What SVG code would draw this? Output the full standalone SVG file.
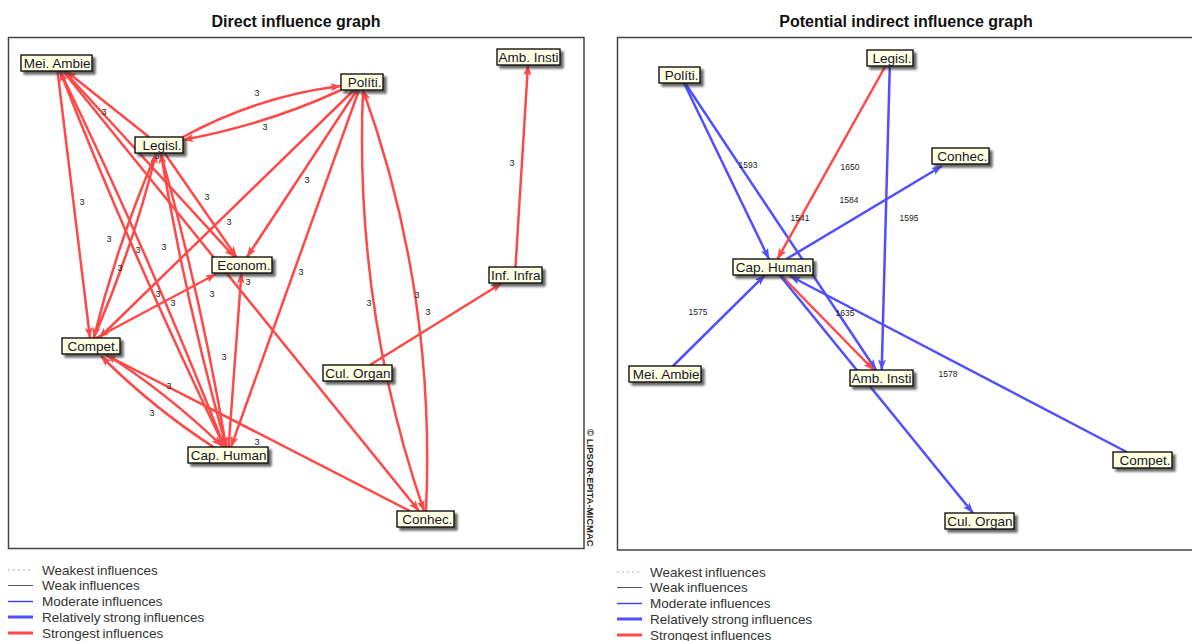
<svg xmlns="http://www.w3.org/2000/svg" width="1192" height="641" viewBox="0 0 1192 641">
<style>
.title{font-family:"Liberation Sans",Arial,sans-serif;font-size:16px;font-weight:bold;fill:#111;text-anchor:middle}
.frame{fill:none;stroke:#444;stroke-width:1.5}
.box{fill:#FFFFE1;stroke:#000;stroke-width:1.3;filter:url(#sh)}
.nt{font-family:"Liberation Sans",Arial,sans-serif;font-size:13.5px;fill:#151530;text-anchor:end}
.er{fill:none;stroke:#ff4848;stroke-width:2.5;marker-end:url(#ar)}
.eb{fill:none;stroke:#4f4fff;stroke-width:2.5;marker-end:url(#ab)}
.lb{font-family:"Liberation Sans",Arial,sans-serif;font-size:9px;fill:#222;text-anchor:middle}
.lr{font-family:"Liberation Sans",Arial,sans-serif;font-size:8.5px;fill:#222;text-anchor:middle}
.lg{font-family:"Liberation Sans",Arial,sans-serif;font-size:13.5px;fill:#333;word-spacing:-1px}
.cp{font-family:"Liberation Sans",Arial,sans-serif;font-size:9.5px;font-weight:bold;fill:#222}
.l-wst{stroke:#aaa;stroke-width:1;stroke-dasharray:2,3}
.l-wk{stroke:#555;stroke-width:1}
.l-mod{stroke:#3c3cff;stroke-width:1.4}
.l-rs{stroke:#4f4fff;stroke-width:3}
.l-st{stroke:#ff4848;stroke-width:3}
</style>
<defs>
<filter id="sh" x="-20%" y="-40%" width="140%" height="190%">
<feDropShadow dx="3" dy="3" stdDeviation="1.2" flood-color="#333" flood-opacity="0.75"/>
</filter>
<marker id="ar" viewBox="0 0 11 8" refX="10.5" refY="4" markerWidth="11" markerHeight="8" markerUnits="userSpaceOnUse" orient="auto">
<path d="M0,0 L11,4 L0,8 L2.5,4 z" fill="#ff4848"/>
</marker>
<marker id="ab" viewBox="0 0 11 8" refX="10.5" refY="4" markerWidth="11" markerHeight="8" markerUnits="userSpaceOnUse" orient="auto">
<path d="M0,0 L11,4 L0,8 L2.5,4 z" fill="#4f4fff"/>
</marker>
</defs>
<rect width="1192" height="641" fill="#fff"/>

<text class="title" x="296" y="27">Direct influence graph</text>
<text class="title" x="906" y="27">Potential indirect influence graph</text>
<rect class="frame" x="8.5" y="37.5" width="575.5" height="511"/>
<rect class="frame" x="617.5" y="37.5" width="600" height="512.5"/>
<text class="cp" transform="translate(587,429) rotate(90)">© LIPSOR-EPITA-MICMAC</text>

<g id="connectors-direct">
<path class="er" d="M183,137 Q258,96 341,86"/>
<path class="er" d="M341,90 Q268,124 183,140"/>
<path class="er" d="M149,137 L66,71"/>
<path class="er" d="M515.5,267 L528,65"/>
<path class="er" d="M370,365 L502,283"/>
<path class="er" d="M363,90 Q354,307 424,511"/>
<path class="er" d="M426,511 Q436,292 363,90"/>
<path class="er" d="M104,353 Q166,392 222,446"/>
<path class="er" d="M215,448 Q153,408 101,356"/>
<path class="er" d="M410,511 L106,355"/>
<path class="er" d="M63,71 L419,511"/>
<path class="er" d="M164.5,153 L236.5,257"/>
<path class="er" d="M64,71 L234.5,257"/>
<path class="er" d="M354,90 L99,338"/>
<path class="er" d="M357,90 L247,257"/>
<path class="er" d="M359,90 L231,447"/>
<path class="er" d="M57.5,71 L90,338"/>
<path class="er" d="M60,71 Q149.6,255.8 224.5,447"/>
<path class="er" d="M224.5,447 Q134.9,262.2 60,71"/>
<path class="er" d="M156.3,153 Q117.4,242.9 93.7,338"/>
<path class="er" d="M93.7,338 Q132.6,248.1 156.3,153"/>
<path class="er" d="M160.8,153 Q201.3,298.3 226.2,447"/>
<path class="er" d="M226.2,447 Q185.7,301.7 160.8,153"/>
<path class="er" d="M96,338 L216,274"/>
<path class="er" d="M228.6,447 L241.4,273"/>
</g>

<g id="labels-direct">
<text class="lb" x="257" y="96">3</text>
<text class="lb" x="265" y="130">3</text>
<text class="lb" x="104" y="115">3</text>
<text class="lb" x="512" y="166">3</text>
<text class="lb" x="207" y="200">3</text>
<text class="lb" x="229" y="225">3</text>
<text class="lb" x="82" y="205">3</text>
<text class="lb" x="307" y="183">3</text>
<text class="lb" x="109" y="242">3</text>
<text class="lb" x="138" y="253">3</text>
<text class="lb" x="164" y="250">3</text>
<text class="lb" x="120" y="271">3</text>
<text class="lb" x="158" y="297">3</text>
<text class="lb" x="173" y="306">3</text>
<text class="lb" x="212" y="297">3</text>
<text class="lb" x="248" y="285">3</text>
<text class="lb" x="301" y="275">3</text>
<text class="lb" x="224" y="360">3</text>
<text class="lb" x="369" y="306">3</text>
<text class="lb" x="417" y="298">3</text>
<text class="lb" x="428" y="315">3</text>
<text class="lb" x="169" y="389">3</text>
<text class="lb" x="152" y="416">3</text>
<text class="lb" x="257" y="445">3</text>
<text class="lb" x="157" y="159">3</text>
</g>

<g id="d-mei-ambie"><rect class="box" x="21" y="55" width="71" height="16"/><text class="nt" x="90.5" y="67.5">Mei. Ambie</text></g>
<g id="d-legisl"><rect class="box" x="135" y="137" width="48" height="16"/><text class="nt" x="181.5" y="149.5">Legisl.</text></g>
<g id="d-econom"><rect class="box" x="212" y="257" width="60" height="16"/><text class="nt" x="270.5" y="269.5">Econom.</text></g>
<g id="d-politi"><rect class="box" x="341" y="74" width="42" height="16"/><text class="nt" x="381.5" y="86.5">Políti.</text></g>
<g id="d-amb-insti"><rect class="box" x="497" y="49" width="63" height="16"/><text class="nt" x="558.5" y="61.5">Amb. Insti</text></g>
<g id="d-inf-infra"><rect class="box" x="489" y="267" width="53" height="16"/><text class="nt" x="540.5" y="279.5">Inf. Infra</text></g>
<g id="d-compet"><rect class="box" x="62" y="338" width="58" height="16"/><text class="nt" x="118.5" y="350.5">Compet.</text></g>
<g id="d-cap-human"><rect class="box" x="188" y="447" width="80" height="16"/><text class="nt" x="266.5" y="459.5">Cap. Human</text></g>
<g id="d-cul-organ"><rect class="box" x="323" y="365" width="69" height="16"/><text class="nt" x="390.5" y="377.5">Cul. Organ</text></g>
<g id="d-conhec"><rect class="box" x="397" y="511" width="57" height="16"/><text class="nt" x="452.5" y="523.5">Conhec.</text></g>

<g id="connectors-indirect">
<path class="eb" d="M684,83 L769,259"/>
<path class="eb" d="M685,83 L876,370"/>
<path class="er" d="M885.5,66 L777.5,259"/>
<path class="eb" d="M889.8,66 L881.7,370"/>
<path class="eb" d="M786.5,259 L942,166"/>
<path class="eb" d="M673,366 L765,275"/>
<path class="eb" d="M1126.7,452 L790,276"/>
<path class="er" d="M780.8,275 L873.7,370"/>
<path class="eb" d="M779.5,275 L973,513"/>
</g>

<g id="labels-indirect">
<text class="lr" x="748" y="168">1593</text>
<text class="lr" x="850" y="170">1650</text>
<text class="lr" x="849" y="203">1584</text>
<text class="lr" x="800" y="221">1541</text>
<text class="lr" x="909" y="221">1595</text>
<text class="lr" x="698" y="315">1575</text>
<text class="lr" x="845" y="316">1635</text>
<text class="lr" x="948" y="377">1578</text>
</g>

<g id="i-politi"><rect class="box" x="659" y="67" width="41" height="16"/><text class="nt" x="698.5" y="79.5">Políti.</text></g>
<g id="i-legisl"><rect class="box" x="867" y="50" width="46" height="16"/><text class="nt" x="911.5" y="62.5">Legisl.</text></g>
<g id="i-conhec"><rect class="box" x="932" y="148" width="57" height="16"/><text class="nt" x="987.5" y="160.5">Conhec.</text></g>
<g id="i-cap-human"><rect class="box" x="733" y="259" width="80" height="16"/><text class="nt" x="811.5" y="271.5">Cap. Human</text></g>
<g id="i-mei-ambie"><rect class="box" x="629" y="366" width="72" height="16"/><text class="nt" x="699.5" y="378.5">Mei. Ambie</text></g>
<g id="i-amb-insti"><rect class="box" x="850" y="370" width="63" height="16"/><text class="nt" x="911.5" y="382.5">Amb. Insti</text></g>
<g id="i-compet"><rect class="box" x="1113" y="452" width="59" height="16"/><text class="nt" x="1170.5" y="464.5">Compet.</text></g>
<g id="i-cul-organ"><rect class="box" x="945" y="513" width="69" height="16"/><text class="nt" x="1012.5" y="525.5">Cul. Organ</text></g>

<g id="legend-direct">
<line class="l-wst" x1="8" y1="570" x2="33" y2="570"/>
<text class="lg" x="42" y="574.5">Weakest influences</text>
<line class="l-wk" x1="8" y1="585.5" x2="33" y2="585.5"/>
<text class="lg" x="42" y="590">Weak influences</text>
<line class="l-mod" x1="8" y1="601.5" x2="33" y2="601.5"/>
<text class="lg" x="42" y="606">Moderate influences</text>
<line class="l-rs" x1="8" y1="617" x2="33" y2="617"/>
<text class="lg" x="42" y="622">Relatively strong influences</text>
<line class="l-st" x1="8" y1="633" x2="33" y2="633"/>
<text class="lg" x="42" y="638">Strongest influences</text>
</g>

<g id="legend-indirect">
<line class="l-wst" x1="617" y1="572" x2="642" y2="572"/>
<text class="lg" x="650" y="576.5">Weakest influences</text>
<line class="l-wk" x1="617" y1="587.5" x2="642" y2="587.5"/>
<text class="lg" x="650" y="592">Weak influences</text>
<line class="l-mod" x1="617" y1="603.5" x2="642" y2="603.5"/>
<text class="lg" x="650" y="608">Moderate influences</text>
<line class="l-rs" x1="617" y1="619" x2="642" y2="619"/>
<text class="lg" x="650" y="624">Relatively strong influences</text>
<line class="l-st" x1="617" y1="635" x2="642" y2="635"/>
<text class="lg" x="650" y="640">Strongest influences</text>
</g>
</svg>
